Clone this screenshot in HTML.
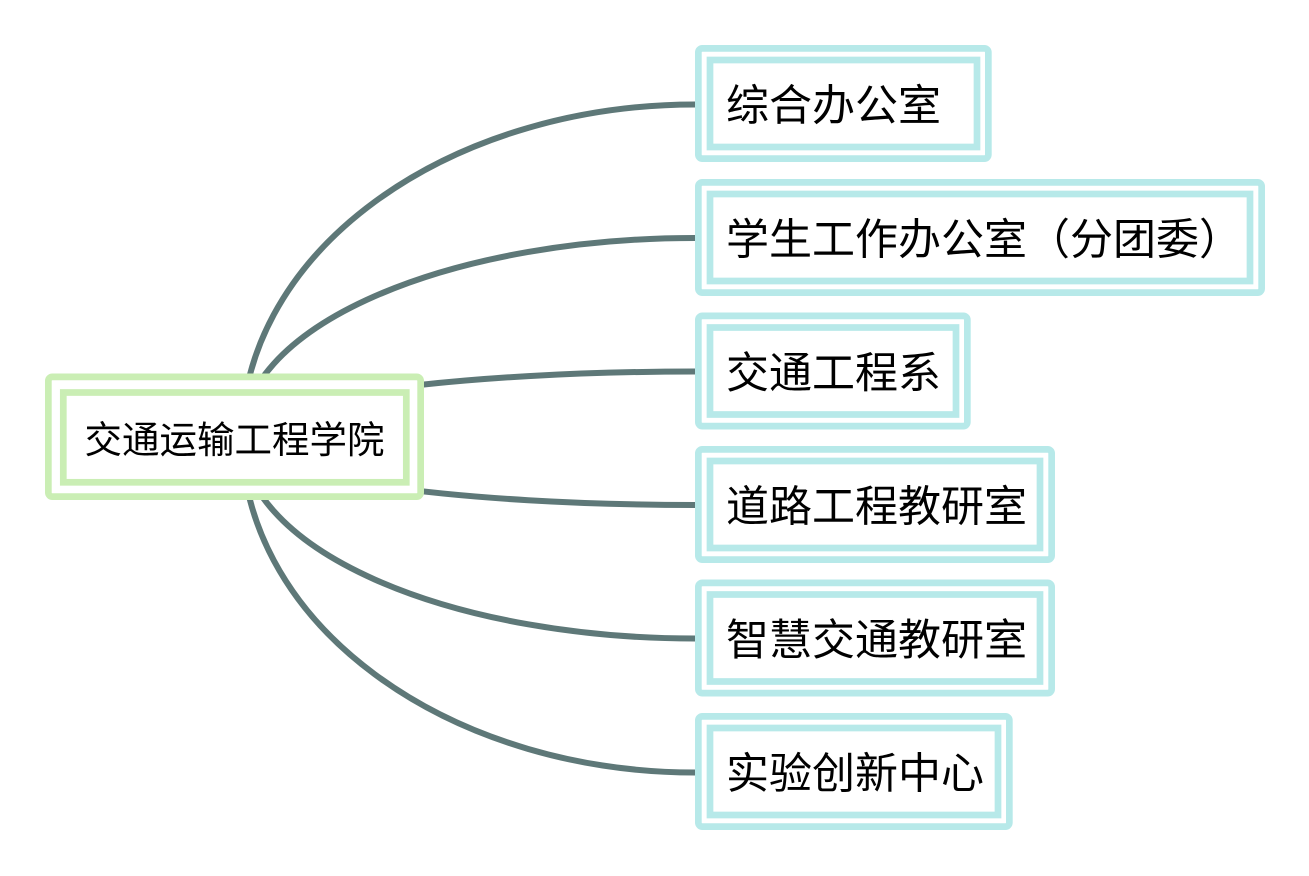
<!DOCTYPE html>
<html>
<head>
<meta charset="utf-8">
<style>
  html, body { margin: 0; padding: 0; background: #ffffff; }
  body { width: 1309px; height: 876px; overflow: hidden; }
  svg { display: block; }
  text { font-family: "Liberation Sans", "Noto Sans CJK SC", sans-serif; fill: #000000; }
</style>
</head>
<body>
<svg width="1309" height="876" viewBox="0 0 1309 876" xmlns="http://www.w3.org/2000/svg">
  <!-- connectors -->
  <g fill="none" stroke="#5e7878" stroke-width="6">
    <path d="M 242 437 A 453 332.5 0 0 1 695 104.5"/>
    <path d="M 242 437 A 453 199 0 0 1 695 238"/>
    <path d="M 242 437 A 453 65.5 0 0 1 695 371.5"/>
    <path d="M 242 437 A 453 68 0 0 0 695 505"/>
    <path d="M 242 437 A 453 201.5 0 0 0 695 638.5"/>
    <path d="M 242 437 A 453 335.5 0 0 0 695 772.5"/>
  </g>

  <!-- root -->
  <g fill="#ffffff" stroke="#caeeb4" stroke-width="6.7">
    <rect x="48.35" y="376.85" width="372.3" height="119.8" rx="4"/>
    <rect x="63.3" y="392.5" width="343" height="89.8"/>
  </g>
  <text x="234.5" y="453" font-size="37.5" text-anchor="middle">交通运输工程学院</text>

  <!-- children -->
  <g fill="#ffffff" stroke="#b7e9e9" stroke-width="6.7">
    <rect x="698.35" y="48.35" width="290" height="110.3" rx="4"/>
    <rect x="710" y="60" width="267" height="87"/>

    <rect x="698.35" y="182.35" width="563.3" height="110.3" rx="4"/>
    <rect x="710" y="194" width="540" height="87"/>

    <rect x="698.35" y="315.85" width="269" height="110.3" rx="4"/>
    <rect x="710" y="327.5" width="246" height="87"/>

    <rect x="698.35" y="449.35" width="353.3" height="110.3" rx="4"/>
    <rect x="710" y="461" width="330" height="87"/>

    <rect x="698.35" y="582.85" width="353.3" height="110.3" rx="4"/>
    <rect x="710" y="594.5" width="330" height="87"/>

    <rect x="698.35" y="716.35" width="311" height="110.3" rx="4"/>
    <rect x="710" y="728" width="288" height="87"/>
  </g>

  <g font-size="43">
    <text x="726" y="120.5">综合办公室</text>
    <text x="726" y="254.5">学生工作办公室（分团委）</text>
    <text x="726" y="388">交通工程系</text>
    <text x="726" y="521.5">道路工程教研室</text>
    <text x="726" y="655">智慧交通教研室</text>
    <text x="726" y="788.5">实验创新中心</text>
  </g>
</svg>
</body>
</html>
